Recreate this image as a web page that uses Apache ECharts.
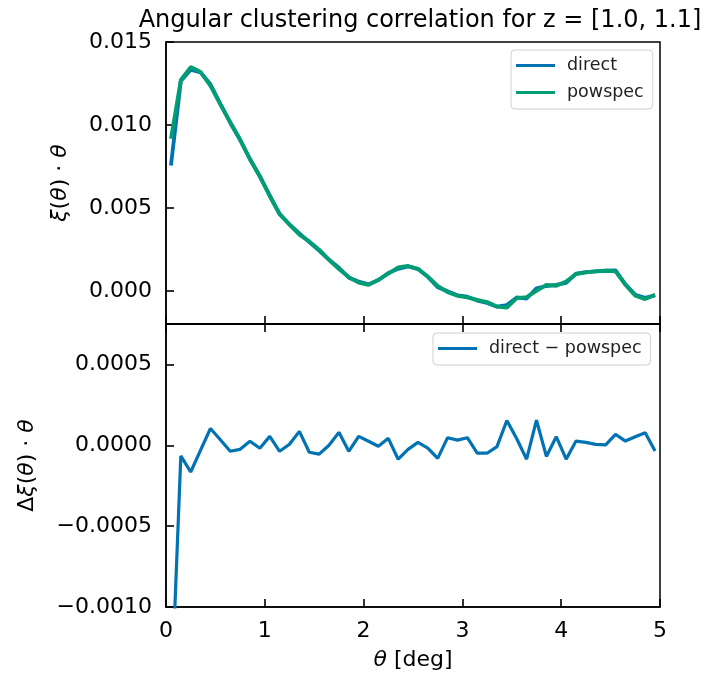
<!DOCTYPE html>
<html>
<head>
<meta charset="utf-8">
<script src="https://cdn.jsdelivr.net/npm/echarts@6/dist/echarts.min.js"></script>
<style>
  html, body { margin: 0; padding: 0; background: #fff; }
  #chart { width: 724px; height: 681px; }
</style>
</head>
<body>
<div id="chart"></div>
<script>
// Angular separation of each sample [deg]
const theta = [
  0.05, 0.15, 0.25, 0.35, 0.45, 0.55, 0.65, 0.75, 0.85, 0.95,
  1.05, 1.15, 1.25, 1.35, 1.45, 1.55, 1.65, 1.75, 1.85, 1.95,
  2.05, 2.15, 2.25, 2.35, 2.45, 2.55, 2.65, 2.75, 2.85, 2.95,
  3.05, 3.15, 3.25, 3.35, 3.45, 3.55, 3.65, 3.75, 3.85, 3.95,
  4.05, 4.15, 4.25, 4.35, 4.45, 4.55, 4.65, 4.75, 4.85, 4.95
];

// xi(theta)*theta from the direct pair count
const direct = [
  0.00755, 0.012644, 0.013325, 0.01316, 0.012454, 0.011274, 0.010133, 0.009095, 0.007945, 0.006892,
  0.005755, 0.004613, 0.003996, 0.003466, 0.002937, 0.002425, 0.00187, 0.00139, 0.000793, 0.000555,
  0.000385, 0.000654, 0.001073, 0.001324, 0.001475, 0.001328, 0.000842, 0.000219, -0.000033, -0.000268,
  -0.000353, -0.000589, -0.000729, -0.000958, -0.000857, -0.0004, -0.000466, 0.000155, 0.000291, 0.000353,
  0.000474, 0.001036, 0.001128, 0.001176, 0.001212, 0.001237, 0.000386, -0.000247, -0.000422, -0.000275
];

// xi(theta)*theta from the power spectrum
const powspec = [
  0.00917, 0.01271, 0.01349, 0.01319, 0.01235, 0.01124, 0.01017, 0.00912, 0.00792, 0.00691,
  0.0057, 0.00465, 0.00399, 0.00338, 0.00298, 0.00248, 0.00187, 0.00131, 0.00083, 0.0005,
  0.00036, 0.00066, 0.00103, 0.00141, 0.0015, 0.00131, 0.00086, 0.0003, -0.00008, -0.0003,
  -0.0004, -0.00054, -0.00068, -0.00095, -0.00101, -0.00044, -0.00038, 0.0, 0.00036, 0.0003,
  0.00056, 0.00101, 0.00111, 0.00117, 0.00121, 0.00117, 0.00036, -0.0003, -0.0005, -0.00024
];

// direct - powspec
const residual = [
  -0.00162, -0.000066, -0.000165, -0.00003, 0.000104, 0.000034, -0.000037, -0.000025, 0.000025, -0.000018,
  0.000055, -0.000037, 0.000006, 0.000086, -0.000043, -0.000055, 0.0, 0.00008, -0.000037, 0.000055,
  0.000025, -0.000006, 0.000043, -0.000086, -0.000025, 0.000018, -0.000018, -0.000081, 0.000047, 0.000032,
  0.000047, -0.000049, -0.000049, -0.000008, 0.000153, 0.00004, -0.000086, 0.000155, -0.000069, 0.000053,
  -0.000086, 0.000026, 0.000018, 0.000006, 0.000002, 0.000067, 0.000026, 0.000053, 0.000078, -0.000035
];

const xTicks = [0, 1, 2, 3, 4, 5];
const topYTicks = [0, 0.005, 0.010, 0.015];
const bottomYTicks = [-0.001, -0.0005, 0, 0.0005];

const FONT = 'DejaVu Sans';
const BLUE = '#0173B2';
const GREEN = '#029E73';

const pairs = (xs, ys) => xs.map((x, i) => [x, ys[i]]);
const fmt = (v, d) => {
  const s = Math.abs(v).toFixed(d);
  return (v < -1e-12 ? '\u2212' : '') + s;
};

const axisLineStyle = { show: true, onZero: false, lineStyle: { color: '#000', width: 1.5 } };
// inward-pointing ticks, drawn only at the given values
const tick = (values) => ({
  show: true, inside: true, length: 8, customValues: values,
  lineStyle: { color: '#000', width: 1.6 }
});
const labelBase = { color: '#000', fontFamily: FONT, fontSize: 22 };
const nameBase = {
  color: '#000', fontFamily: FONT, fontSize: 22,
  rich: { i: { fontStyle: 'italic', fontFamily: FONT, fontSize: 22, color: '#000' } }
};
const legendBase = {
  orient: 'vertical',
  icon: 'rect', itemWidth: 39, itemHeight: 3, itemGap: 6,
  padding: [5, 9, 6, 5],
  borderColor: '#d0d0d0', borderWidth: 1, borderRadius: 4,
  backgroundColor: 'rgba(255,255,255,0.8)',
  textStyle: { color: '#222', fontFamily: FONT, fontSize: 17.5, lineHeight: 21, padding: [0, 0, 0, 7] }
};

const chart = echarts.init(document.getElementById('chart'), null, { renderer: 'canvas' });

chart.setOption({
  animation: false,
  backgroundColor: '#fff',
  title: {
    text: 'Angular clustering correlation for z = [1.0, 1.1]',
    left: 415,
    textAlign: 'center',
    top: 4,
    textStyle: { color: '#000', fontFamily: FONT, fontSize: 24, fontWeight: 'normal' }
  },
  grid: [
    { left: 166, right: 64, top: 42, height: 282, show: true, borderColor: '#000', borderWidth: 1.5, backgroundColor: 'transparent' },
    { left: 166, right: 64, top: 324, height: 283, show: true, borderColor: '#000', borderWidth: 1.5, backgroundColor: 'transparent' }
  ],
  legend: [
    Object.assign({ data: ['direct', 'powspec'], left: 511, top: 50 }, legendBase),
    Object.assign({ data: ['direct \u2212 powspec'], left: 433, top: 333 }, legendBase)
  ],
  xAxis: [
    {
      type: 'value', gridIndex: 0, position: 'bottom', min: 0, max: 5, interval: 1,
      axisLine: axisLineStyle, splitLine: { show: false },
      axisTick: tick(xTicks), axisLabel: { show: false }
    },
    {
      type: 'value', gridIndex: 1, position: 'bottom', min: 0, max: 5, interval: 1,
      axisLine: axisLineStyle, splitLine: { show: false },
      axisTick: tick(xTicks),
      axisLabel: Object.assign({ margin: 13, customValues: xTicks, formatter: v => String(v) }, labelBase),
      name: '{i|\u03B8} [deg]', nameLocation: 'middle', nameGap: 42, nameTextStyle: nameBase
    },
    {
      type: 'value', gridIndex: 1, position: 'top', min: 0, max: 5, interval: 1,
      axisLine: axisLineStyle, splitLine: { show: false },
      axisTick: tick(xTicks), axisLabel: { show: false }
    }
  ],
  yAxis: [
    {
      type: 'value', gridIndex: 0, position: 'left', min: -0.002, max: 0.015,
      axisLine: axisLineStyle, splitLine: { show: false },
      axisTick: tick(topYTicks),
      axisLabel: Object.assign({ margin: 14, customValues: topYTicks, formatter: v => fmt(v, 3) }, labelBase),
      name: '{i|\u03BE}({i|\u03B8}) \u00B7 {i|\u03B8}', nameLocation: 'middle', nameGap: 95, nameTextStyle: nameBase
    },
    {
      type: 'value', gridIndex: 1, position: 'left', min: -0.001, max: 0.00075,
      axisLine: axisLineStyle, splitLine: { show: false },
      axisTick: tick(bottomYTicks),
      axisLabel: Object.assign({ margin: 14, customValues: bottomYTicks, formatter: v => fmt(v, 4) }, labelBase),
      name: '\u0394{i|\u03BE}({i|\u03B8}) \u00B7 {i|\u03B8}', nameLocation: 'middle', nameGap: 128, nameTextStyle: nameBase
    }
  ],
  series: [
    {
      name: 'direct', type: 'line', xAxisIndex: 0, yAxisIndex: 0,
      data: pairs(theta, direct), symbol: 'none', clip: true,
      lineStyle: { color: BLUE, width: 3.8 }, itemStyle: { color: BLUE }
    },
    {
      name: 'powspec', type: 'line', xAxisIndex: 0, yAxisIndex: 0,
      data: pairs(theta, powspec), symbol: 'none', clip: true,
      lineStyle: { color: GREEN, width: 3.8 }, itemStyle: { color: GREEN }
    },
    {
      name: 'direct \u2212 powspec', type: 'line', xAxisIndex: 1, yAxisIndex: 1,
      data: pairs(theta, residual), symbol: 'none', clip: true,
      lineStyle: { color: BLUE, width: 3.2 }, itemStyle: { color: BLUE }
    }
  ]
});
</script>
</body>
</html>
